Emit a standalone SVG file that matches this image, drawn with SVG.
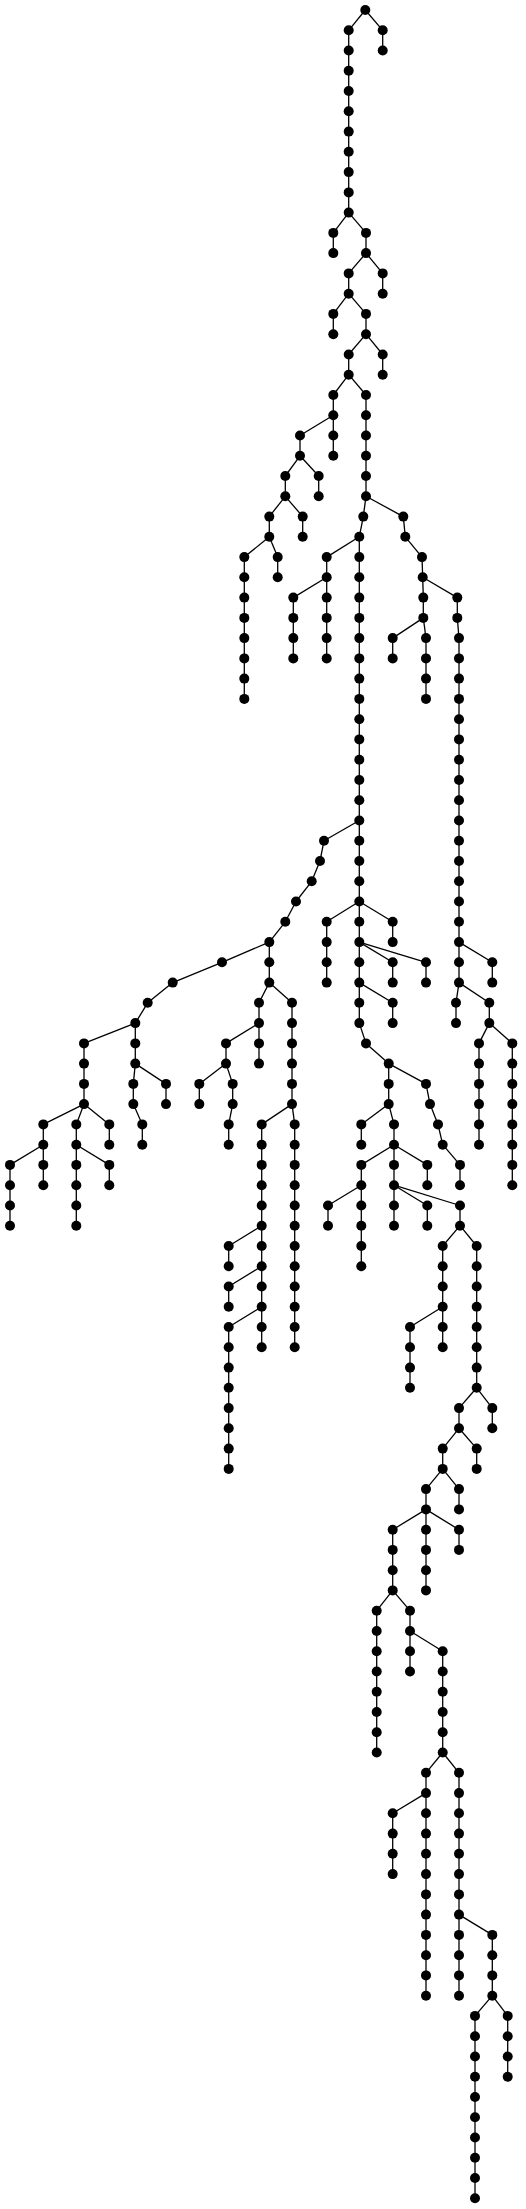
<svg xmlns="http://www.w3.org/2000/svg" width="526" height="2209" viewBox="0 0 526 2209">
<style>
.e path{stroke:#000;stroke-width:1.3;fill:none}
.n circle{fill:#000}
</style>
<rect width="526" height="2209" fill="#fff"/>
<g class="e" id="connectors">
<path d="M365.3 10L348.7 30.3"/><path d="M348.7 30.3L348.7 50.5"/><path d="M348.7 50.5L348.7 70.8"/><path d="M348.7 70.8L348.7 91"/><path d="M348.7 91L348.7 111.3"/><path d="M348.7 111.3L348.7 131.6"/><path d="M348.7 131.6L348.7 151.8"/><path d="M348.7 151.8L348.7 172.1"/><path d="M348.7 172.1L348.7 192.4"/><path d="M348.7 192.4L348.7 212.6"/>
<path d="M365.3 10L382.7 30.3"/><path d="M382.7 30.3L382.7 50.5"/>
<path d="M348.7 212.6L333.3 232.9"/><path d="M333.3 232.9L333.3 253.1"/>
<path d="M348.7 212.6L366 232.9"/><path d="M366 232.9L366 253.1"/>
<path d="M366 253.1L348.7 273.4"/><path d="M348.7 273.4L348.7 293.7"/>
<path d="M366 253.1L382.7 273.4"/><path d="M382.7 273.4L382.7 293.7"/>
<path d="M348.7 293.7L333.3 313.9"/><path d="M333.3 313.9L333.3 334.2"/>
<path d="M348.7 293.7L366 313.9"/><path d="M366 313.9L366 334.2"/>
<path d="M366 334.2L348.7 354.5"/><path d="M348.7 354.5L348.7 374.7"/>
<path d="M366 334.2L382.7 354.5"/><path d="M382.7 354.5L382.7 374.7"/>
<path d="M348.7 374.7L333.3 395"/><path d="M333.3 395L333.3 415.2"/>
<path d="M348.7 374.7L366 395"/><path d="M366 395L366 415.2"/><path d="M366 415.2L366 435.5"/><path d="M366 435.5L366 455.8"/><path d="M366 455.8L366 476"/><path d="M366 476L366 496.3"/>
<path d="M333.3 415.2L300 435.5"/><path d="M300 435.5L300 455.8"/>
<path d="M333.3 415.2L333.3 435.5"/><path d="M333.3 435.5L333.3 455.8"/>
<path d="M300 455.8L285.3 476"/><path d="M285.3 476L285.3 496.3"/>
<path d="M300 455.8L318.7 476"/><path d="M318.7 476L318.7 496.3"/>
<path d="M285.3 496.3L269.3 516.6"/><path d="M269.3 516.6L269.3 536.8"/>
<path d="M285.3 496.3L302.7 516.6"/><path d="M302.7 516.6L302.7 536.8"/>
<path d="M269.3 536.8L244.3 557.1"/><path d="M244.3 557.1L244.3 577.3"/><path d="M244.3 577.3L244.3 597.6"/><path d="M244.3 597.6L244.3 617.9"/><path d="M244.3 617.9L244.3 638.1"/><path d="M244.3 638.1L244.3 658.4"/><path d="M244.3 658.4L244.3 678.6"/><path d="M244.3 678.6L244.3 698.9"/>
<path d="M269.3 536.8L277.7 557.1"/><path d="M277.7 557.1L277.7 577.3"/>
<path d="M366 496.3L363.3 516.6"/><path d="M363.3 516.6L359.3 536.8"/>
<path d="M366 496.3L403.3 516.6"/><path d="M403.3 516.6L405.3 536.8"/><path d="M405.3 536.8L422 557.1"/><path d="M422 557.1L422.7 577.3"/>
<path d="M359.3 536.8L326.7 557.1"/><path d="M326.7 557.1L326.7 577.3"/>
<path d="M359.3 536.8L359.3 557.1"/><path d="M359.3 557.1L359.3 577.3"/><path d="M359.3 577.3L359.3 597.6"/><path d="M359.3 597.6L359.3 617.9"/><path d="M359.3 617.9L359.3 638.1"/><path d="M359.3 638.1L359.3 658.4"/><path d="M359.3 658.4L359.3 678.6"/><path d="M359.3 678.6L359.3 698.9"/><path d="M359.3 698.9L359.3 719.2"/><path d="M359.3 719.2L359.3 739.4"/><path d="M359.3 739.4L359.3 759.7"/><path d="M359.3 759.7L359.3 780"/><path d="M359.3 780L359.3 800.2"/><path d="M359.3 800.2L359.3 820.5"/><path d="M359.3 820.5L359.3 840.7"/><path d="M359.3 840.7L359.3 861"/><path d="M359.3 861L359.3 881.3"/><path d="M359.3 881.3L359.3 901.5"/>
<path d="M326.7 577.3L293.3 597.6"/><path d="M293.3 597.6L293.3 617.9"/><path d="M293.3 617.9L293.3 638.1"/><path d="M293.3 638.1L293.3 658.4"/>
<path d="M326.7 577.3L326.7 597.6"/><path d="M326.7 597.6L326.7 617.9"/><path d="M326.7 617.9L326.7 638.1"/><path d="M326.7 638.1L326.7 658.4"/>
<path d="M422.7 577.3L423.3 597.6"/><path d="M423.3 597.6L423.3 617.9"/>
<path d="M422.7 577.3L457.3 597.6"/><path d="M457.3 597.6L457.3 617.9"/><path d="M457.3 617.9L459 638.1"/><path d="M459 638.1L459 658.4"/><path d="M459 658.4L459 678.6"/><path d="M459 678.6L459 698.9"/><path d="M459 698.9L459 719.2"/><path d="M459 719.2L459 739.4"/><path d="M459 739.4L459 759.7"/><path d="M459 759.7L459 780"/><path d="M459 780L459 800.2"/><path d="M459 800.2L459 820.5"/><path d="M459 820.5L459 840.7"/><path d="M459 840.7L459 861"/><path d="M459 861L459 881.3"/><path d="M459 881.3L459 901.5"/><path d="M459 901.5L459 921.8"/><path d="M459 921.8L459 942.1"/>
<path d="M423.3 617.9L392.7 638.1"/><path d="M392.7 638.1L392.7 658.4"/>
<path d="M423.3 617.9L426 638.1"/><path d="M426 638.1L426 658.4"/><path d="M426 658.4L426 678.6"/><path d="M426 678.6L426 698.9"/>
<path d="M359.3 820.5L324 840.7"/><path d="M324 840.7L320 861"/><path d="M320 861L311.7 881.3"/><path d="M311.7 881.3L296 901.5"/><path d="M296 901.5L285.3 921.8"/><path d="M285.3 921.8L269.3 942.1"/>
<path d="M269.3 942.1L222 962.3"/><path d="M222 962.3L172.7 982.6"/><path d="M172.7 982.6L147.7 1002.8"/><path d="M147.7 1002.8L135.3 1023.1"/>
<path d="M269.3 942.1L269.3 962.3"/><path d="M269.3 962.3L269.3 982.6"/>
<path d="M135.3 1023.1L84 1043.4"/><path d="M84 1043.4L84 1063.6"/><path d="M84 1063.6L84 1083.9"/><path d="M84 1083.9L84 1104.1"/>
<path d="M135.3 1023.1L135.3 1043.4"/><path d="M135.3 1043.4L135.3 1063.6"/>
<path d="M269.3 982.6L259 1002.8"/><path d="M259 1002.8L259 1023.1"/>
<path d="M269.3 982.6L292 1002.8"/><path d="M292 1002.8L292 1023.1"/><path d="M292 1023.1L292 1043.4"/><path d="M292 1043.4L292 1063.6"/><path d="M292 1063.6L292 1083.9"/><path d="M292 1083.9L292 1104.1"/>
<path d="M259 1023.1L226 1043.4"/><path d="M226 1043.4L226 1063.6"/>
<path d="M259 1023.1L259 1043.4"/><path d="M259 1043.4L259 1063.6"/>
<path d="M226 1063.6L199.3 1083.9"/><path d="M199.3 1083.9L199.3 1104.1"/>
<path d="M226 1063.6L232.7 1083.9"/><path d="M232.7 1083.9L232.7 1104.1"/><path d="M232.7 1104.1L228.7 1124.4"/><path d="M228.7 1124.4L228.7 1144.7"/>
<path d="M84 1104.1L43.3 1124.4"/><path d="M43.3 1124.4L43.3 1144.7"/>
<path d="M84 1104.1L76.3 1124.4"/><path d="M76.3 1124.4L76.3 1144.7"/>
<path d="M84 1104.1L109.3 1124.4"/><path d="M109.3 1124.4L109.3 1144.7"/>
<path d="M43.3 1144.7L10 1164.9"/><path d="M10 1164.9L10 1185.2"/><path d="M10 1185.2L10 1205.5"/><path d="M10 1205.5L10 1225.7"/>
<path d="M43.3 1144.7L43.3 1164.9"/><path d="M43.3 1164.9L43.3 1185.2"/>
<path d="M76.3 1144.7L76.3 1164.9"/><path d="M76.3 1164.9L76.3 1185.2"/><path d="M76.3 1185.2L76.3 1205.5"/><path d="M76.3 1205.5L76.3 1225.7"/>
<path d="M76.3 1144.7L109.3 1164.9"/><path d="M109.3 1164.9L109.3 1185.2"/>
<path d="M135.3 1063.6L133.3 1083.9"/><path d="M133.3 1083.9L133.3 1104.1"/><path d="M133.3 1104.1L142.3 1124.4"/><path d="M142.3 1124.4L142.3 1144.7"/>
<path d="M135.3 1063.6L166 1083.9"/><path d="M166 1083.9L166 1104.1"/>
<path d="M292 1104.1L261.7 1124.4"/><path d="M261.7 1124.4L261.7 1144.7"/><path d="M261.7 1144.7L261.7 1164.9"/><path d="M261.7 1164.9L261.7 1185.2"/><path d="M261.7 1185.2L261.7 1205.5"/><path d="M261.7 1205.5L261.7 1225.7"/>
<path d="M292 1104.1L294.7 1124.4"/><path d="M294.7 1124.4L294.7 1144.7"/><path d="M294.7 1144.7L294.7 1164.9"/><path d="M294.7 1164.9L294.7 1185.2"/><path d="M294.7 1185.2L294.7 1205.5"/><path d="M294.7 1205.5L294.7 1225.7"/><path d="M294.7 1225.7L294.7 1246"/><path d="M294.7 1246L294.7 1266.2"/><path d="M294.7 1266.2L294.7 1286.5"/><path d="M294.7 1286.5L294.7 1306.8"/><path d="M294.7 1306.8L294.7 1327"/><path d="M294.7 1327L294.7 1347.3"/>
<path d="M261.7 1225.7L228.7 1246"/><path d="M228.7 1246L228.7 1266.2"/>
<path d="M261.7 1225.7L261.7 1246"/><path d="M261.7 1246L261.7 1266.2"/>
<path d="M261.7 1266.2L228.7 1286.5"/><path d="M228.7 1286.5L228.7 1306.8"/>
<path d="M261.7 1266.2L261.7 1286.5"/><path d="M261.7 1286.5L261.7 1306.8"/>
<path d="M261.7 1306.8L228.7 1327"/><path d="M228.7 1327L228.7 1347.3"/><path d="M228.7 1347.3L228.7 1367.6"/><path d="M228.7 1367.6L228.7 1387.8"/><path d="M228.7 1387.8L228.7 1408.1"/><path d="M228.7 1408.1L228.7 1428.3"/><path d="M228.7 1428.3L228.7 1448.6"/><path d="M228.7 1448.6L228.7 1468.9"/>
<path d="M261.7 1306.8L261.7 1327"/><path d="M261.7 1327L261.7 1347.3"/>
<path d="M359.3 901.5L326.7 921.8"/><path d="M326.7 921.8L326.7 942.1"/><path d="M326.7 942.1L326.7 962.3"/><path d="M326.7 962.3L326.7 982.6"/>
<path d="M359.3 901.5L359.3 921.8"/><path d="M359.3 921.8L359.3 942.1"/>
<path d="M359.3 901.5L392.7 921.8"/><path d="M392.7 921.8L392.7 942.1"/>
<path d="M359.3 942.1L359.3 962.3"/><path d="M359.3 962.3L359.3 982.6"/>
<path d="M359.3 942.1L392.7 962.3"/><path d="M392.7 962.3L392.7 982.6"/>
<path d="M359.3 942.1L426 962.3"/><path d="M426 962.3L426 982.6"/>
<path d="M359.3 982.6L359.3 1002.8"/><path d="M359.3 1002.8L359.3 1023.1"/><path d="M359.3 1023.1L366 1043.4"/><path d="M366 1043.4L388.7 1063.6"/>
<path d="M359.3 982.6L392.7 1002.8"/><path d="M392.7 1002.8L392.7 1023.1"/>
<path d="M388.7 1063.6L388.7 1083.9"/><path d="M388.7 1083.9L388.7 1104.1"/>
<path d="M388.7 1063.6L426 1083.9"/><path d="M426 1083.9L430 1104.1"/><path d="M430 1104.1L438 1124.4"/><path d="M438 1124.4L442.7 1144.7"/><path d="M442.7 1144.7L460 1164.9"/><path d="M460 1164.9L460 1185.2"/>
<path d="M388.7 1104.1L361.3 1124.4"/><path d="M361.3 1124.4L361.3 1144.7"/>
<path d="M388.7 1104.1L394 1124.4"/><path d="M394 1124.4L394 1144.7"/>
<path d="M394 1144.7L361.3 1164.9"/><path d="M361.3 1164.9L361.3 1185.2"/>
<path d="M394 1144.7L394 1164.9"/><path d="M394 1164.9L394 1185.2"/>
<path d="M394 1144.7L427.3 1164.9"/><path d="M427.3 1164.9L427.3 1185.2"/>
<path d="M361.3 1185.2L328 1205.5"/><path d="M328 1205.5L328 1225.7"/>
<path d="M361.3 1185.2L361.3 1205.5"/><path d="M361.3 1205.5L361.3 1225.7"/><path d="M361.3 1225.7L361.3 1246"/><path d="M361.3 1246L361.3 1266.2"/>
<path d="M394 1185.2L394 1205.5"/><path d="M394 1205.5L394 1225.7"/>
<path d="M394 1185.2L427.3 1205.5"/><path d="M427.3 1205.5L427.3 1225.7"/>
<path d="M394 1185.2L460 1205.5"/><path d="M460 1205.5L460 1225.7"/>
<path d="M460 1225.7L442.7 1246"/><path d="M442.7 1246L442.7 1266.2"/><path d="M442.7 1266.2L442.7 1286.5"/><path d="M442.7 1286.5L442.7 1306.8"/>
<path d="M460 1225.7L476.7 1246"/><path d="M476.7 1246L476.7 1266.2"/><path d="M476.7 1266.2L476.7 1286.5"/><path d="M476.7 1286.5L476.7 1306.8"/><path d="M476.7 1306.8L476.7 1327"/><path d="M476.7 1327L476.7 1347.3"/><path d="M476.7 1347.3L476.7 1367.6"/><path d="M476.7 1367.6L476.7 1387.8"/>
<path d="M442.7 1306.8L410 1327"/><path d="M410 1327L410 1347.3"/><path d="M410 1347.3L410 1367.6"/><path d="M410 1367.6L410 1387.8"/>
<path d="M442.7 1306.8L442.7 1327"/><path d="M442.7 1327L442.7 1347.3"/>
<path d="M476.7 1387.8L459 1408.1"/><path d="M459 1408.1L459 1428.3"/>
<path d="M476.7 1387.8L492.3 1408.1"/><path d="M492.3 1408.1L492.3 1428.3"/>
<path d="M459 1428.3L442.7 1448.6"/><path d="M442.7 1448.6L442.7 1468.9"/>
<path d="M459 1428.3L476.7 1448.6"/><path d="M476.7 1448.6L476.7 1468.9"/>
<path d="M442.7 1468.9L426 1489.1"/><path d="M426 1489.1L426 1509.4"/>
<path d="M442.7 1468.9L459 1489.1"/><path d="M459 1489.1L459 1509.4"/>
<path d="M426 1509.4L392.7 1529.7"/><path d="M392.7 1529.7L392.7 1549.9"/><path d="M392.7 1549.9L392.7 1570.2"/><path d="M392.7 1570.2L392.7 1590.4"/>
<path d="M426 1509.4L426 1529.7"/><path d="M426 1529.7L426 1549.9"/><path d="M426 1549.9L426 1570.2"/><path d="M426 1570.2L426 1590.4"/>
<path d="M426 1509.4L459 1529.7"/><path d="M459 1529.7L459 1549.9"/>
<path d="M392.7 1590.4L376.7 1610.7"/><path d="M376.7 1610.7L376.7 1631"/><path d="M376.7 1631L376.7 1651.2"/><path d="M376.7 1651.2L376.7 1671.5"/><path d="M376.7 1671.5L376.7 1691.7"/><path d="M376.7 1691.7L376.7 1712"/><path d="M376.7 1712L376.7 1732.3"/><path d="M376.7 1732.3L376.7 1752.5"/>
<path d="M392.7 1590.4L410 1610.7"/><path d="M410 1610.7L410 1631"/>
<path d="M410 1631L410 1651.2"/><path d="M410 1651.2L410 1671.5"/>
<path d="M410 1631L442.7 1651.2"/><path d="M442.7 1651.2L442.7 1671.5"/><path d="M442.7 1671.5L442.7 1691.7"/><path d="M442.7 1691.7L442.7 1712"/><path d="M442.7 1712L442.7 1732.3"/><path d="M442.7 1732.3L442.7 1752.5"/>
<path d="M442.7 1752.5L426 1772.8"/><path d="M426 1772.8L426 1793.1"/>
<path d="M442.7 1752.5L459 1772.8"/><path d="M459 1772.8L459 1793.1"/><path d="M459 1793.1L459 1813.3"/><path d="M459 1813.3L459 1833.6"/><path d="M459 1833.6L459 1853.8"/><path d="M459 1853.8L459 1874.1"/><path d="M459 1874.1L459 1894.4"/><path d="M459 1894.4L459 1914.6"/>
<path d="M426 1793.1L392.7 1813.3"/><path d="M392.7 1813.3L392.7 1833.6"/><path d="M392.7 1833.6L392.7 1853.8"/><path d="M392.7 1853.8L392.7 1874.1"/>
<path d="M426 1793.1L426 1813.3"/><path d="M426 1813.3L426 1833.6"/><path d="M426 1833.6L426 1853.8"/><path d="M426 1853.8L426 1874.1"/><path d="M426 1874.1L426 1894.4"/><path d="M426 1894.4L426 1914.6"/><path d="M426 1914.6L426 1934.9"/><path d="M426 1934.9L426 1955.2"/><path d="M426 1955.2L426 1975.4"/><path d="M426 1975.4L426 1995.7"/>
<path d="M459 1914.6L459 1934.9"/><path d="M459 1934.9L459 1955.2"/><path d="M459 1955.2L459 1975.4"/><path d="M459 1975.4L459 1995.7"/>
<path d="M459 1914.6L492.3 1934.9"/><path d="M492.3 1934.9L492.3 1955.2"/><path d="M492.3 1955.2L492.3 1975.4"/><path d="M492.3 1975.4L492.3 1995.7"/>
<path d="M492.3 1995.7L475 2015.9"/><path d="M475 2015.9L475 2036.2"/><path d="M475 2036.2L475 2056.5"/><path d="M475 2056.5L475 2076.7"/><path d="M475 2076.7L475 2097"/><path d="M475 2097L475 2117.2"/><path d="M475 2117.2L475 2137.5"/><path d="M475 2137.5L475 2157.8"/><path d="M475 2157.8L475 2178"/><path d="M475 2178L475 2198.3"/>
<path d="M492.3 1995.7L507.7 2015.9"/><path d="M507.7 2015.9L507.7 2036.2"/><path d="M507.7 2036.2L507.7 2056.5"/><path d="M507.7 2056.5L507.7 2076.7"/>
<path d="M459 942.1L459 962.3"/><path d="M459 962.3L459 982.6"/>
<path d="M459 942.1L492.3 962.3"/><path d="M492.3 962.3L492.3 982.6"/>
<path d="M459 982.6L456 1002.8"/><path d="M456 1002.8L456 1023.1"/>
<path d="M459 982.6L489.3 1002.8"/><path d="M489.3 1002.8L489.3 1023.1"/>
<path d="M489.3 1023.1L479 1043.4"/><path d="M479 1043.4L479 1063.6"/><path d="M479 1063.6L479 1083.9"/><path d="M479 1083.9L479 1104.1"/><path d="M479 1104.1L479 1124.4"/><path d="M479 1124.4L479 1144.7"/>
<path d="M489.3 1023.1L512.3 1043.4"/><path d="M512.3 1043.4L512.3 1063.6"/><path d="M512.3 1063.6L512.3 1083.9"/><path d="M512.3 1083.9L512.3 1104.1"/><path d="M512.3 1104.1L512.3 1124.4"/><path d="M512.3 1124.4L512.3 1144.7"/><path d="M512.3 1144.7L512.3 1164.9"/><path d="M512.3 1164.9L512.3 1185.2"/>
</g>
<g class="n" id="nodes">
<g id="n1"><circle cx="365.3" cy="10" r="5"/></g>
<g id="n2_1"><circle cx="348.7" cy="30.3" r="5"/></g><g id="n2_2"><circle cx="348.7" cy="50.5" r="5"/></g><g id="n2_3"><circle cx="348.7" cy="70.8" r="5"/></g><g id="n2_4"><circle cx="348.7" cy="91" r="5"/></g><g id="n2_5"><circle cx="348.7" cy="111.3" r="5"/></g><g id="n2_6"><circle cx="348.7" cy="131.6" r="5"/></g><g id="n2_7"><circle cx="348.7" cy="151.8" r="5"/></g><g id="n2_8"><circle cx="348.7" cy="172.1" r="5"/></g><g id="n2_9"><circle cx="348.7" cy="192.4" r="5"/></g><g id="n2_10"><circle cx="348.7" cy="212.6" r="5"/></g>
<g id="n3_1"><circle cx="382.7" cy="30.3" r="5"/></g><g id="n3_2"><circle cx="382.7" cy="50.5" r="5"/></g>
<g id="n4_1"><circle cx="333.3" cy="232.9" r="5"/></g><g id="n4_2"><circle cx="333.3" cy="253.1" r="5"/></g>
<g id="n5_1"><circle cx="366" cy="232.9" r="5"/></g><g id="n5_2"><circle cx="366" cy="253.1" r="5"/></g>
<g id="n6_1"><circle cx="348.7" cy="273.4" r="5"/></g><g id="n6_2"><circle cx="348.7" cy="293.7" r="5"/></g>
<g id="n7_1"><circle cx="382.7" cy="273.4" r="5"/></g><g id="n7_2"><circle cx="382.7" cy="293.7" r="5"/></g>
<g id="n8_1"><circle cx="333.3" cy="313.9" r="5"/></g><g id="n8_2"><circle cx="333.3" cy="334.2" r="5"/></g>
<g id="n9_1"><circle cx="366" cy="313.9" r="5"/></g><g id="n9_2"><circle cx="366" cy="334.2" r="5"/></g>
<g id="n10_1"><circle cx="348.7" cy="354.5" r="5"/></g><g id="n10_2"><circle cx="348.7" cy="374.7" r="5"/></g>
<g id="n11_1"><circle cx="382.7" cy="354.5" r="5"/></g><g id="n11_2"><circle cx="382.7" cy="374.7" r="5"/></g>
<g id="n12_1"><circle cx="333.3" cy="395" r="5"/></g><g id="n12_2"><circle cx="333.3" cy="415.2" r="5"/></g>
<g id="n13_1"><circle cx="366" cy="395" r="5"/></g><g id="n13_2"><circle cx="366" cy="415.2" r="5"/></g><g id="n13_3"><circle cx="366" cy="435.5" r="5"/></g><g id="n13_4"><circle cx="366" cy="455.8" r="5"/></g><g id="n13_5"><circle cx="366" cy="476" r="5"/></g><g id="n13_6"><circle cx="366" cy="496.3" r="5"/></g>
<g id="n14_1"><circle cx="300" cy="435.5" r="5"/></g><g id="n14_2"><circle cx="300" cy="455.8" r="5"/></g>
<g id="n15_1"><circle cx="333.3" cy="435.5" r="5"/></g><g id="n15_2"><circle cx="333.3" cy="455.8" r="5"/></g>
<g id="n16_1"><circle cx="285.3" cy="476" r="5"/></g><g id="n16_2"><circle cx="285.3" cy="496.3" r="5"/></g>
<g id="n17_1"><circle cx="318.7" cy="476" r="5"/></g><g id="n17_2"><circle cx="318.7" cy="496.3" r="5"/></g>
<g id="n18_1"><circle cx="269.3" cy="516.6" r="5"/></g><g id="n18_2"><circle cx="269.3" cy="536.8" r="5"/></g>
<g id="n19_1"><circle cx="302.7" cy="516.6" r="5"/></g><g id="n19_2"><circle cx="302.7" cy="536.8" r="5"/></g>
<g id="n20_1"><circle cx="244.3" cy="557.1" r="5"/></g><g id="n20_2"><circle cx="244.3" cy="577.3" r="5"/></g><g id="n20_3"><circle cx="244.3" cy="597.6" r="5"/></g><g id="n20_4"><circle cx="244.3" cy="617.9" r="5"/></g><g id="n20_5"><circle cx="244.3" cy="638.1" r="5"/></g><g id="n20_6"><circle cx="244.3" cy="658.4" r="5"/></g><g id="n20_7"><circle cx="244.3" cy="678.6" r="5"/></g><g id="n20_8"><circle cx="244.3" cy="698.9" r="5"/></g>
<g id="n21_1"><circle cx="277.7" cy="557.1" r="5"/></g><g id="n21_2"><circle cx="277.7" cy="577.3" r="5"/></g>
<g id="n22_1"><circle cx="363.3" cy="516.6" r="5"/></g><g id="n22_2"><circle cx="359.3" cy="536.8" r="5"/></g>
<g id="n23_1"><circle cx="403.3" cy="516.6" r="5"/></g><g id="n23_2"><circle cx="405.3" cy="536.8" r="5"/></g><g id="n23_3"><circle cx="422" cy="557.1" r="5"/></g><g id="n23_4"><circle cx="422.7" cy="577.3" r="5"/></g>
<g id="n24_1"><circle cx="326.7" cy="557.1" r="5"/></g><g id="n24_2"><circle cx="326.7" cy="577.3" r="5"/></g>
<g id="n25_1"><circle cx="359.3" cy="557.1" r="5"/></g><g id="n25_2"><circle cx="359.3" cy="577.3" r="5"/></g><g id="n25_3"><circle cx="359.3" cy="597.6" r="5"/></g><g id="n25_4"><circle cx="359.3" cy="617.9" r="5"/></g><g id="n25_5"><circle cx="359.3" cy="638.1" r="5"/></g><g id="n25_6"><circle cx="359.3" cy="658.4" r="5"/></g><g id="n25_7"><circle cx="359.3" cy="678.6" r="5"/></g><g id="n25_8"><circle cx="359.3" cy="698.9" r="5"/></g><g id="n25_9"><circle cx="359.3" cy="719.2" r="5"/></g><g id="n25_10"><circle cx="359.3" cy="739.4" r="5"/></g><g id="n25_11"><circle cx="359.3" cy="759.7" r="5"/></g><g id="n25_12"><circle cx="359.3" cy="780" r="5"/></g><g id="n25_13"><circle cx="359.3" cy="800.2" r="5"/></g><g id="n25_14"><circle cx="359.3" cy="820.5" r="5"/></g><g id="n25_15"><circle cx="359.3" cy="840.7" r="5"/></g><g id="n25_16"><circle cx="359.3" cy="861" r="5"/></g><g id="n25_17"><circle cx="359.3" cy="881.3" r="5"/></g><g id="n25_18"><circle cx="359.3" cy="901.5" r="5"/></g>
<g id="n26_1"><circle cx="293.3" cy="597.6" r="5"/></g><g id="n26_2"><circle cx="293.3" cy="617.9" r="5"/></g><g id="n26_3"><circle cx="293.3" cy="638.1" r="5"/></g><g id="n26_4"><circle cx="293.3" cy="658.4" r="5"/></g>
<g id="n27_1"><circle cx="326.7" cy="597.6" r="5"/></g><g id="n27_2"><circle cx="326.7" cy="617.9" r="5"/></g><g id="n27_3"><circle cx="326.7" cy="638.1" r="5"/></g><g id="n27_4"><circle cx="326.7" cy="658.4" r="5"/></g>
<g id="n28_1"><circle cx="423.3" cy="597.6" r="5"/></g><g id="n28_2"><circle cx="423.3" cy="617.9" r="5"/></g>
<g id="n29_1"><circle cx="457.3" cy="597.6" r="5"/></g><g id="n29_2"><circle cx="457.3" cy="617.9" r="5"/></g><g id="n29_3"><circle cx="459" cy="638.1" r="5"/></g><g id="n29_4"><circle cx="459" cy="658.4" r="5"/></g><g id="n29_5"><circle cx="459" cy="678.6" r="5"/></g><g id="n29_6"><circle cx="459" cy="698.9" r="5"/></g><g id="n29_7"><circle cx="459" cy="719.2" r="5"/></g><g id="n29_8"><circle cx="459" cy="739.4" r="5"/></g><g id="n29_9"><circle cx="459" cy="759.7" r="5"/></g><g id="n29_10"><circle cx="459" cy="780" r="5"/></g><g id="n29_11"><circle cx="459" cy="800.2" r="5"/></g><g id="n29_12"><circle cx="459" cy="820.5" r="5"/></g><g id="n29_13"><circle cx="459" cy="840.7" r="5"/></g><g id="n29_14"><circle cx="459" cy="861" r="5"/></g><g id="n29_15"><circle cx="459" cy="881.3" r="5"/></g><g id="n29_16"><circle cx="459" cy="901.5" r="5"/></g><g id="n29_17"><circle cx="459" cy="921.8" r="5"/></g><g id="n29_18"><circle cx="459" cy="942.1" r="5"/></g>
<g id="n30_1"><circle cx="392.7" cy="638.1" r="5"/></g><g id="n30_2"><circle cx="392.7" cy="658.4" r="5"/></g>
<g id="n31_1"><circle cx="426" cy="638.1" r="5"/></g><g id="n31_2"><circle cx="426" cy="658.4" r="5"/></g><g id="n31_3"><circle cx="426" cy="678.6" r="5"/></g><g id="n31_4"><circle cx="426" cy="698.9" r="5"/></g>
<g id="n32_1"><circle cx="324" cy="840.7" r="5"/></g><g id="n32_2"><circle cx="320" cy="861" r="5"/></g><g id="n32_3"><circle cx="311.7" cy="881.3" r="5"/></g><g id="n32_4"><circle cx="296" cy="901.5" r="5"/></g><g id="n32_5"><circle cx="285.3" cy="921.8" r="5"/></g><g id="n32_6"><circle cx="269.3" cy="942.1" r="5"/></g>
<g id="n33_1"><circle cx="222" cy="962.3" r="5"/></g><g id="n33_2"><circle cx="172.7" cy="982.6" r="5"/></g><g id="n33_3"><circle cx="147.7" cy="1002.8" r="5"/></g><g id="n33_4"><circle cx="135.3" cy="1023.1" r="5"/></g>
<g id="n34_1"><circle cx="269.3" cy="962.3" r="5"/></g><g id="n34_2"><circle cx="269.3" cy="982.6" r="5"/></g>
<g id="n35_1"><circle cx="84" cy="1043.4" r="5"/></g><g id="n35_2"><circle cx="84" cy="1063.6" r="5"/></g><g id="n35_3"><circle cx="84" cy="1083.9" r="5"/></g><g id="n35_4"><circle cx="84" cy="1104.1" r="5"/></g>
<g id="n36_1"><circle cx="135.3" cy="1043.4" r="5"/></g><g id="n36_2"><circle cx="135.3" cy="1063.6" r="5"/></g>
<g id="n37_1"><circle cx="259" cy="1002.8" r="5"/></g><g id="n37_2"><circle cx="259" cy="1023.1" r="5"/></g>
<g id="n38_1"><circle cx="292" cy="1002.8" r="5"/></g><g id="n38_2"><circle cx="292" cy="1023.1" r="5"/></g><g id="n38_3"><circle cx="292" cy="1043.4" r="5"/></g><g id="n38_4"><circle cx="292" cy="1063.6" r="5"/></g><g id="n38_5"><circle cx="292" cy="1083.9" r="5"/></g><g id="n38_6"><circle cx="292" cy="1104.1" r="5"/></g>
<g id="n39_1"><circle cx="226" cy="1043.4" r="5"/></g><g id="n39_2"><circle cx="226" cy="1063.6" r="5"/></g>
<g id="n40_1"><circle cx="259" cy="1043.4" r="5"/></g><g id="n40_2"><circle cx="259" cy="1063.6" r="5"/></g>
<g id="n41_1"><circle cx="199.3" cy="1083.9" r="5"/></g><g id="n41_2"><circle cx="199.3" cy="1104.1" r="5"/></g>
<g id="n42_1"><circle cx="232.7" cy="1083.9" r="5"/></g><g id="n42_2"><circle cx="232.7" cy="1104.1" r="5"/></g><g id="n42_3"><circle cx="228.7" cy="1124.4" r="5"/></g><g id="n42_4"><circle cx="228.7" cy="1144.7" r="5"/></g>
<g id="n43_1"><circle cx="43.3" cy="1124.4" r="5"/></g><g id="n43_2"><circle cx="43.3" cy="1144.7" r="5"/></g>
<g id="n44_1"><circle cx="76.3" cy="1124.4" r="5"/></g><g id="n44_2"><circle cx="76.3" cy="1144.7" r="5"/></g>
<g id="n45_1"><circle cx="109.3" cy="1124.4" r="5"/></g><g id="n45_2"><circle cx="109.3" cy="1144.7" r="5"/></g>
<g id="n46_1"><circle cx="10" cy="1164.9" r="5"/></g><g id="n46_2"><circle cx="10" cy="1185.2" r="5"/></g><g id="n46_3"><circle cx="10" cy="1205.5" r="5"/></g><g id="n46_4"><circle cx="10" cy="1225.7" r="5"/></g>
<g id="n47_1"><circle cx="43.3" cy="1164.9" r="5"/></g><g id="n47_2"><circle cx="43.3" cy="1185.2" r="5"/></g>
<g id="n48_1"><circle cx="76.3" cy="1164.9" r="5"/></g><g id="n48_2"><circle cx="76.3" cy="1185.2" r="5"/></g><g id="n48_3"><circle cx="76.3" cy="1205.5" r="5"/></g><g id="n48_4"><circle cx="76.3" cy="1225.7" r="5"/></g>
<g id="n49_1"><circle cx="109.3" cy="1164.9" r="5"/></g><g id="n49_2"><circle cx="109.3" cy="1185.2" r="5"/></g>
<g id="n50_1"><circle cx="133.3" cy="1083.9" r="5"/></g><g id="n50_2"><circle cx="133.3" cy="1104.1" r="5"/></g><g id="n50_3"><circle cx="142.3" cy="1124.4" r="5"/></g><g id="n50_4"><circle cx="142.3" cy="1144.7" r="5"/></g>
<g id="n51_1"><circle cx="166" cy="1083.9" r="5"/></g><g id="n51_2"><circle cx="166" cy="1104.1" r="5"/></g>
<g id="n52_1"><circle cx="261.7" cy="1124.4" r="5"/></g><g id="n52_2"><circle cx="261.7" cy="1144.7" r="5"/></g><g id="n52_3"><circle cx="261.7" cy="1164.9" r="5"/></g><g id="n52_4"><circle cx="261.7" cy="1185.2" r="5"/></g><g id="n52_5"><circle cx="261.7" cy="1205.5" r="5"/></g><g id="n52_6"><circle cx="261.7" cy="1225.7" r="5"/></g>
<g id="n53_1"><circle cx="294.7" cy="1124.4" r="5"/></g><g id="n53_2"><circle cx="294.7" cy="1144.7" r="5"/></g><g id="n53_3"><circle cx="294.7" cy="1164.9" r="5"/></g><g id="n53_4"><circle cx="294.7" cy="1185.2" r="5"/></g><g id="n53_5"><circle cx="294.7" cy="1205.5" r="5"/></g><g id="n53_6"><circle cx="294.7" cy="1225.7" r="5"/></g><g id="n53_7"><circle cx="294.7" cy="1246" r="5"/></g><g id="n53_8"><circle cx="294.7" cy="1266.2" r="5"/></g><g id="n53_9"><circle cx="294.7" cy="1286.5" r="5"/></g><g id="n53_10"><circle cx="294.7" cy="1306.8" r="5"/></g><g id="n53_11"><circle cx="294.7" cy="1327" r="5"/></g><g id="n53_12"><circle cx="294.7" cy="1347.3" r="5"/></g>
<g id="n54_1"><circle cx="228.7" cy="1246" r="5"/></g><g id="n54_2"><circle cx="228.7" cy="1266.2" r="5"/></g>
<g id="n55_1"><circle cx="261.7" cy="1246" r="5"/></g><g id="n55_2"><circle cx="261.7" cy="1266.2" r="5"/></g>
<g id="n56_1"><circle cx="228.7" cy="1286.5" r="5"/></g><g id="n56_2"><circle cx="228.7" cy="1306.8" r="5"/></g>
<g id="n57_1"><circle cx="261.7" cy="1286.5" r="5"/></g><g id="n57_2"><circle cx="261.7" cy="1306.8" r="5"/></g>
<g id="n58_1"><circle cx="228.7" cy="1327" r="5"/></g><g id="n58_2"><circle cx="228.7" cy="1347.3" r="5"/></g><g id="n58_3"><circle cx="228.7" cy="1367.6" r="5"/></g><g id="n58_4"><circle cx="228.7" cy="1387.8" r="5"/></g><g id="n58_5"><circle cx="228.7" cy="1408.1" r="5"/></g><g id="n58_6"><circle cx="228.7" cy="1428.3" r="5"/></g><g id="n58_7"><circle cx="228.7" cy="1448.6" r="5"/></g><g id="n58_8"><circle cx="228.7" cy="1468.9" r="5"/></g>
<g id="n59_1"><circle cx="261.7" cy="1327" r="5"/></g><g id="n59_2"><circle cx="261.7" cy="1347.3" r="5"/></g>
<g id="n60_1"><circle cx="326.7" cy="921.8" r="5"/></g><g id="n60_2"><circle cx="326.7" cy="942.1" r="5"/></g><g id="n60_3"><circle cx="326.7" cy="962.3" r="5"/></g><g id="n60_4"><circle cx="326.7" cy="982.6" r="5"/></g>
<g id="n61_1"><circle cx="359.3" cy="921.8" r="5"/></g><g id="n61_2"><circle cx="359.3" cy="942.1" r="5"/></g>
<g id="n62_1"><circle cx="392.7" cy="921.8" r="5"/></g><g id="n62_2"><circle cx="392.7" cy="942.1" r="5"/></g>
<g id="n63_1"><circle cx="359.3" cy="962.3" r="5"/></g><g id="n63_2"><circle cx="359.3" cy="982.6" r="5"/></g>
<g id="n64_1"><circle cx="392.7" cy="962.3" r="5"/></g><g id="n64_2"><circle cx="392.7" cy="982.6" r="5"/></g>
<g id="n65_1"><circle cx="426" cy="962.3" r="5"/></g><g id="n65_2"><circle cx="426" cy="982.6" r="5"/></g>
<g id="n66_1"><circle cx="359.3" cy="1002.8" r="5"/></g><g id="n66_2"><circle cx="359.3" cy="1023.1" r="5"/></g><g id="n66_3"><circle cx="366" cy="1043.4" r="5"/></g><g id="n66_4"><circle cx="388.7" cy="1063.6" r="5"/></g>
<g id="n67_1"><circle cx="392.7" cy="1002.8" r="5"/></g><g id="n67_2"><circle cx="392.7" cy="1023.1" r="5"/></g>
<g id="n68_1"><circle cx="388.7" cy="1083.9" r="5"/></g><g id="n68_2"><circle cx="388.7" cy="1104.1" r="5"/></g>
<g id="n69_1"><circle cx="426" cy="1083.9" r="5"/></g><g id="n69_2"><circle cx="430" cy="1104.1" r="5"/></g><g id="n69_3"><circle cx="438" cy="1124.4" r="5"/></g><g id="n69_4"><circle cx="442.7" cy="1144.7" r="5"/></g><g id="n69_5"><circle cx="460" cy="1164.9" r="5"/></g><g id="n69_6"><circle cx="460" cy="1185.2" r="5"/></g>
<g id="n70_1"><circle cx="361.3" cy="1124.4" r="5"/></g><g id="n70_2"><circle cx="361.3" cy="1144.7" r="5"/></g>
<g id="n71_1"><circle cx="394" cy="1124.4" r="5"/></g><g id="n71_2"><circle cx="394" cy="1144.7" r="5"/></g>
<g id="n72_1"><circle cx="361.3" cy="1164.9" r="5"/></g><g id="n72_2"><circle cx="361.3" cy="1185.2" r="5"/></g>
<g id="n73_1"><circle cx="394" cy="1164.9" r="5"/></g><g id="n73_2"><circle cx="394" cy="1185.2" r="5"/></g>
<g id="n74_1"><circle cx="427.3" cy="1164.9" r="5"/></g><g id="n74_2"><circle cx="427.3" cy="1185.2" r="5"/></g>
<g id="n75_1"><circle cx="328" cy="1205.5" r="5"/></g><g id="n75_2"><circle cx="328" cy="1225.7" r="5"/></g>
<g id="n76_1"><circle cx="361.3" cy="1205.5" r="5"/></g><g id="n76_2"><circle cx="361.3" cy="1225.7" r="5"/></g><g id="n76_3"><circle cx="361.3" cy="1246" r="5"/></g><g id="n76_4"><circle cx="361.3" cy="1266.2" r="5"/></g>
<g id="n77_1"><circle cx="394" cy="1205.5" r="5"/></g><g id="n77_2"><circle cx="394" cy="1225.7" r="5"/></g>
<g id="n78_1"><circle cx="427.3" cy="1205.5" r="5"/></g><g id="n78_2"><circle cx="427.3" cy="1225.7" r="5"/></g>
<g id="n79_1"><circle cx="460" cy="1205.5" r="5"/></g><g id="n79_2"><circle cx="460" cy="1225.7" r="5"/></g>
<g id="n80_1"><circle cx="442.7" cy="1246" r="5"/></g><g id="n80_2"><circle cx="442.7" cy="1266.2" r="5"/></g><g id="n80_3"><circle cx="442.7" cy="1286.5" r="5"/></g><g id="n80_4"><circle cx="442.7" cy="1306.8" r="5"/></g>
<g id="n81_1"><circle cx="476.7" cy="1246" r="5"/></g><g id="n81_2"><circle cx="476.7" cy="1266.2" r="5"/></g><g id="n81_3"><circle cx="476.7" cy="1286.5" r="5"/></g><g id="n81_4"><circle cx="476.7" cy="1306.8" r="5"/></g><g id="n81_5"><circle cx="476.7" cy="1327" r="5"/></g><g id="n81_6"><circle cx="476.7" cy="1347.3" r="5"/></g><g id="n81_7"><circle cx="476.7" cy="1367.6" r="5"/></g><g id="n81_8"><circle cx="476.7" cy="1387.8" r="5"/></g>
<g id="n82_1"><circle cx="410" cy="1327" r="5"/></g><g id="n82_2"><circle cx="410" cy="1347.3" r="5"/></g><g id="n82_3"><circle cx="410" cy="1367.6" r="5"/></g><g id="n82_4"><circle cx="410" cy="1387.8" r="5"/></g>
<g id="n83_1"><circle cx="442.7" cy="1327" r="5"/></g><g id="n83_2"><circle cx="442.7" cy="1347.3" r="5"/></g>
<g id="n84_1"><circle cx="459" cy="1408.1" r="5"/></g><g id="n84_2"><circle cx="459" cy="1428.3" r="5"/></g>
<g id="n85_1"><circle cx="492.3" cy="1408.1" r="5"/></g><g id="n85_2"><circle cx="492.3" cy="1428.3" r="5"/></g>
<g id="n86_1"><circle cx="442.7" cy="1448.6" r="5"/></g><g id="n86_2"><circle cx="442.7" cy="1468.9" r="5"/></g>
<g id="n87_1"><circle cx="476.7" cy="1448.6" r="5"/></g><g id="n87_2"><circle cx="476.7" cy="1468.9" r="5"/></g>
<g id="n88_1"><circle cx="426" cy="1489.1" r="5"/></g><g id="n88_2"><circle cx="426" cy="1509.4" r="5"/></g>
<g id="n89_1"><circle cx="459" cy="1489.1" r="5"/></g><g id="n89_2"><circle cx="459" cy="1509.4" r="5"/></g>
<g id="n90_1"><circle cx="392.7" cy="1529.7" r="5"/></g><g id="n90_2"><circle cx="392.7" cy="1549.9" r="5"/></g><g id="n90_3"><circle cx="392.7" cy="1570.2" r="5"/></g><g id="n90_4"><circle cx="392.7" cy="1590.4" r="5"/></g>
<g id="n91_1"><circle cx="426" cy="1529.7" r="5"/></g><g id="n91_2"><circle cx="426" cy="1549.9" r="5"/></g><g id="n91_3"><circle cx="426" cy="1570.2" r="5"/></g><g id="n91_4"><circle cx="426" cy="1590.4" r="5"/></g>
<g id="n92_1"><circle cx="459" cy="1529.7" r="5"/></g><g id="n92_2"><circle cx="459" cy="1549.9" r="5"/></g>
<g id="n93_1"><circle cx="376.7" cy="1610.7" r="5"/></g><g id="n93_2"><circle cx="376.7" cy="1631" r="5"/></g><g id="n93_3"><circle cx="376.7" cy="1651.2" r="5"/></g><g id="n93_4"><circle cx="376.7" cy="1671.5" r="5"/></g><g id="n93_5"><circle cx="376.7" cy="1691.7" r="5"/></g><g id="n93_6"><circle cx="376.7" cy="1712" r="5"/></g><g id="n93_7"><circle cx="376.7" cy="1732.3" r="5"/></g><g id="n93_8"><circle cx="376.7" cy="1752.5" r="5"/></g>
<g id="n94_1"><circle cx="410" cy="1610.7" r="5"/></g><g id="n94_2"><circle cx="410" cy="1631" r="5"/></g>
<g id="n95_1"><circle cx="410" cy="1651.2" r="5"/></g><g id="n95_2"><circle cx="410" cy="1671.5" r="5"/></g>
<g id="n96_1"><circle cx="442.7" cy="1651.2" r="5"/></g><g id="n96_2"><circle cx="442.7" cy="1671.5" r="5"/></g><g id="n96_3"><circle cx="442.7" cy="1691.7" r="5"/></g><g id="n96_4"><circle cx="442.7" cy="1712" r="5"/></g><g id="n96_5"><circle cx="442.7" cy="1732.3" r="5"/></g><g id="n96_6"><circle cx="442.7" cy="1752.5" r="5"/></g>
<g id="n97_1"><circle cx="426" cy="1772.8" r="5"/></g><g id="n97_2"><circle cx="426" cy="1793.1" r="5"/></g>
<g id="n98_1"><circle cx="459" cy="1772.8" r="5"/></g><g id="n98_2"><circle cx="459" cy="1793.1" r="5"/></g><g id="n98_3"><circle cx="459" cy="1813.3" r="5"/></g><g id="n98_4"><circle cx="459" cy="1833.6" r="5"/></g><g id="n98_5"><circle cx="459" cy="1853.8" r="5"/></g><g id="n98_6"><circle cx="459" cy="1874.1" r="5"/></g><g id="n98_7"><circle cx="459" cy="1894.4" r="5"/></g><g id="n98_8"><circle cx="459" cy="1914.6" r="5"/></g>
<g id="n99_1"><circle cx="392.7" cy="1813.3" r="5"/></g><g id="n99_2"><circle cx="392.7" cy="1833.6" r="5"/></g><g id="n99_3"><circle cx="392.7" cy="1853.8" r="5"/></g><g id="n99_4"><circle cx="392.7" cy="1874.1" r="5"/></g>
<g id="n100_1"><circle cx="426" cy="1813.3" r="5"/></g><g id="n100_2"><circle cx="426" cy="1833.6" r="5"/></g><g id="n100_3"><circle cx="426" cy="1853.8" r="5"/></g><g id="n100_4"><circle cx="426" cy="1874.1" r="5"/></g><g id="n100_5"><circle cx="426" cy="1894.4" r="5"/></g><g id="n100_6"><circle cx="426" cy="1914.6" r="5"/></g><g id="n100_7"><circle cx="426" cy="1934.9" r="5"/></g><g id="n100_8"><circle cx="426" cy="1955.2" r="5"/></g><g id="n100_9"><circle cx="426" cy="1975.4" r="5"/></g><g id="n100_10"><circle cx="426" cy="1995.7" r="5"/></g>
<g id="n101_1"><circle cx="459" cy="1934.9" r="5"/></g><g id="n101_2"><circle cx="459" cy="1955.2" r="5"/></g><g id="n101_3"><circle cx="459" cy="1975.4" r="5"/></g><g id="n101_4"><circle cx="459" cy="1995.7" r="5"/></g>
<g id="n102_1"><circle cx="492.3" cy="1934.9" r="5"/></g><g id="n102_2"><circle cx="492.3" cy="1955.2" r="5"/></g><g id="n102_3"><circle cx="492.3" cy="1975.4" r="5"/></g><g id="n102_4"><circle cx="492.3" cy="1995.7" r="5"/></g>
<g id="n103_1"><circle cx="475" cy="2015.9" r="5"/></g><g id="n103_2"><circle cx="475" cy="2036.2" r="5"/></g><g id="n103_3"><circle cx="475" cy="2056.5" r="5"/></g><g id="n103_4"><circle cx="475" cy="2076.7" r="5"/></g><g id="n103_5"><circle cx="475" cy="2097" r="5"/></g><g id="n103_6"><circle cx="475" cy="2117.2" r="5"/></g><g id="n103_7"><circle cx="475" cy="2137.5" r="5"/></g><g id="n103_8"><circle cx="475" cy="2157.8" r="5"/></g><g id="n103_9"><circle cx="475" cy="2178" r="5"/></g><g id="n103_10"><circle cx="475" cy="2198.3" r="5"/></g>
<g id="n104_1"><circle cx="507.7" cy="2015.9" r="5"/></g><g id="n104_2"><circle cx="507.7" cy="2036.2" r="5"/></g><g id="n104_3"><circle cx="507.7" cy="2056.5" r="5"/></g><g id="n104_4"><circle cx="507.7" cy="2076.7" r="5"/></g>
<g id="n105_1"><circle cx="459" cy="962.3" r="5"/></g><g id="n105_2"><circle cx="459" cy="982.6" r="5"/></g>
<g id="n106_1"><circle cx="492.3" cy="962.3" r="5"/></g><g id="n106_2"><circle cx="492.3" cy="982.6" r="5"/></g>
<g id="n107_1"><circle cx="456" cy="1002.8" r="5"/></g><g id="n107_2"><circle cx="456" cy="1023.1" r="5"/></g>
<g id="n108_1"><circle cx="489.3" cy="1002.8" r="5"/></g><g id="n108_2"><circle cx="489.3" cy="1023.1" r="5"/></g>
<g id="n109_1"><circle cx="479" cy="1043.4" r="5"/></g><g id="n109_2"><circle cx="479" cy="1063.6" r="5"/></g><g id="n109_3"><circle cx="479" cy="1083.9" r="5"/></g><g id="n109_4"><circle cx="479" cy="1104.1" r="5"/></g><g id="n109_5"><circle cx="479" cy="1124.4" r="5"/></g><g id="n109_6"><circle cx="479" cy="1144.7" r="5"/></g>
<g id="n110_1"><circle cx="512.3" cy="1043.4" r="5"/></g><g id="n110_2"><circle cx="512.3" cy="1063.6" r="5"/></g><g id="n110_3"><circle cx="512.3" cy="1083.9" r="5"/></g><g id="n110_4"><circle cx="512.3" cy="1104.1" r="5"/></g><g id="n110_5"><circle cx="512.3" cy="1124.4" r="5"/></g><g id="n110_6"><circle cx="512.3" cy="1144.7" r="5"/></g><g id="n110_7"><circle cx="512.3" cy="1164.9" r="5"/></g><g id="n110_8"><circle cx="512.3" cy="1185.2" r="5"/></g>
</g>
</svg>
